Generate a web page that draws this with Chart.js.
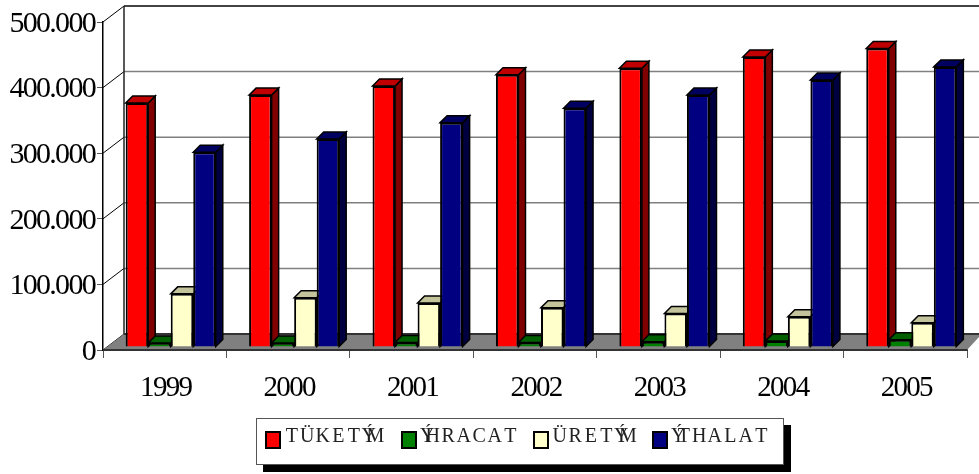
<!DOCTYPE html>
<html>
<head>
<meta charset="utf-8">
<script src="https://cdn.jsdelivr.net/npm/chart.js@4/dist/chart.umd.min.js"></script>
<style>
  html, body { margin: 0; padding: 0; background: #fff; overflow: hidden; }
  #wrap { position: relative; width: 979px; height: 474px; }
  #legend {
    position: absolute; left: 256px; top: 418px; width: 526px; height: 45px;
    background: #fff; border: 1px solid #555; box-shadow: 7px 7px 0 #000;
    font-family: "Liberation Serif", serif; font-size: 20px; color: #222;
  }
  .item { position: absolute; top: 6px; height: 30px; white-space: nowrap; }
  .swatch { position: absolute; left: 0; top: 6px; width: 12px; height: 14px; border: 2px solid #000; }
  .name { position: absolute; left: 19px; top: -1px; }
  .ch { display: inline-block; width: 15.5px; text-align: center; }
  .ch.narrow { width: 5px; }
</style>
</head>
<body>
<div id="wrap">
  <canvas id="chart" width="979" height="474"></canvas>
  <div id="legend"></div>
</div>
<script>
const years = ['1999', '2000', '2001', '2002', '2003', '2004', '2005'];
const tuketim = [372000, 384000, 398000, 415000, 425000, 442000, 455000];
const ihracat = [6000, 6000, 7000, 7000, 8000, 9000, 11000];
const uretim = [81000, 75000, 67000, 60000, 51000, 46000, 37000];
const ithalat = [297000, 317000, 342000, 364000, 384000, 407000, 427000];
const seriesNames = ['TÜKETÝM', 'ÝHRACAT', 'ÜRETÝM', 'ÝTHALAT'];
const yTickLabels = ['0', '100.000', '200.000', '300.000', '400.000', '500.000'];

const fronts = ['#ff0000', '#008000', '#ffffcc', '#000080'];
const tops = ['#c00000', '#006000', '#c4c49c', '#000060'];
const sides = ['#800000', '#004000', '#808066', '#000040'];

// depth of the box and of one bar, in pixels
const boxDX = 21, boxDY = 16;
const barDX = 7, barDY = 7;
const shiftX = 6, shiftY = -3;

function poly(ctx, pts, fill, stroke, lw) {
  ctx.beginPath();
  pts.forEach((p, i) => i ? ctx.lineTo(p[0], p[1]) : ctx.moveTo(p[0], p[1]));
  ctx.closePath();
  if (fill) { ctx.fillStyle = fill; ctx.fill(); }
  if (stroke) { ctx.strokeStyle = stroke; ctx.lineWidth = lw; ctx.stroke(); }
}

const box3d = {
  id: 'box3d',
  beforeDraw(chart) {
    chart.ctx.letterSpacing = '-1.7px';
  },
  beforeDatasetsDraw(chart) {
    const ctx = chart.ctx, a = chart.chartArea, y = chart.scales.y;
    ctx.save();
    ctx.letterSpacing = '0px';
    const backR = chart.width;
    // back wall grid
    y.ticks.forEach(t => {
      const py = y.getPixelForValue(t.value);
      ctx.strokeStyle = t.value === 500000 ? '#444' : '#808080';
      ctx.lineWidth = t.value === 500000 ? 2 : 1.5;
      ctx.beginPath();
      ctx.moveTo(a.left + boxDX, py - boxDY);
      ctx.lineTo(backR, py - boxDY);
      ctx.stroke();
      ctx.strokeStyle = '#000';
      ctx.lineWidth = 1;
      ctx.beginPath();
      ctx.moveTo(a.left, py);
      ctx.lineTo(a.left + boxDX, py - boxDY);
      ctx.stroke();
    });
    ctx.strokeStyle = '#222';
    ctx.lineWidth = 1.5;
    ctx.beginPath();
    ctx.moveTo(a.left + boxDX, a.top - boxDY);
    ctx.lineTo(a.left + boxDX, a.bottom - boxDY);
    ctx.stroke();
    // floor
    poly(ctx, [[a.left, a.bottom], [a.left + boxDX, a.bottom - boxDY], [backR, a.bottom - boxDY], [backR, a.bottom - boxDY + 3], [a.right, a.bottom]], '#808080');
    ctx.strokeStyle = '#333';
    ctx.lineWidth = 2;
    ctx.beginPath();
    ctx.moveTo(a.left, a.bottom);
    ctx.lineTo(a.right, a.bottom);
    ctx.moveTo(a.left + boxDX, a.bottom - boxDY);
    ctx.lineTo(backR, a.bottom - boxDY);
    ctx.stroke();
    ctx.restore();

    // bars sit half way into the box; draw left to right so each bar covers
    // the side face of the one before it (Chart.js would go the other way)
    ctx.save();
    ctx.translate(shiftX, shiftY);
    chart.data.datasets.forEach((ds, i) => {
      const meta = chart.getDatasetMeta(i);
      meta.data.forEach(bar => {
        const l = bar.x - bar.width / 2, r = bar.x + bar.width / 2;
        const t = bar.y, b = bar.base;
        poly(ctx, [[r, t], [r + barDX, t - barDY], [r + barDX, b - barDY], [r, b]], sides[i], '#000', 1.5);
        poly(ctx, [[l, t], [l + barDX, t - barDY], [r + barDX, t - barDY], [r, t]], tops[i], '#000', 1.5);
      });
      meta.controller.draw();
    });
    ctx.restore();
    return false;
  }
};

new Chart(document.getElementById('chart'), {
  type: 'bar',
  data: {
    labels: years,
    datasets: [tuketim, ihracat, uretim, ithalat].map((values, i) => ({
      label: seriesNames[i],
      data: values,
      backgroundColor: fronts[i],
      borderColor: '#000',
      borderWidth: 2,
      categoryPercentage: 0.73,
      barPercentage: 1
    }))
  },
  options: {
    responsive: false,
    animation: false,
    layout: { padding: { left: 0, right: 12, top: 22, bottom: 0 } },
    plugins: { legend: { display: false }, tooltip: { enabled: false } },
    scales: {
      x: {
        afterFit(s) { s.height = 124; },
        grid: { drawOnChartArea: false, drawTicks: true, tickLength: 8, color: '#555', offset: true },
        border: { color: '#333', width: 2 },
        ticks: { color: '#000', padding: 13, labelOffset: 1, maxRotation: 0, font: { family: '"Liberation Serif"', size: 29 } }
      },
      y: {
        min: 0,
        max: 500000,
        afterFit(s) { s.width = 103; },
        grid: { drawOnChartArea: false, drawTicks: true, tickLength: 6, color: '#555' },
        border: { color: '#000', width: 1.5 },
        ticks: {
          stepSize: 100000,
          color: '#000',
          padding: 2,
          labelOffset: 2,
          font: { family: '"Liberation Serif"', size: 30 },
          callback: (v, i) => yTickLabels[i]
        }
      }
    }
  },
  plugins: [box3d]
});

// legend, fixed pitch like the original; Ý has almost no advance in it
const legend = document.getElementById('legend');
const legendLeft = [8, 144, 276, 395];
seriesNames.forEach((name, i) => {
  const item = document.createElement('div');
  item.className = 'item';
  item.style.left = legendLeft[i] + 'px';
  const sw = document.createElement('span');
  sw.className = 'swatch';
  sw.style.background = fronts[i];
  item.appendChild(sw);
  const txt = document.createElement('span');
  txt.className = 'name';
  for (const c of name) {
    const s = document.createElement('span');
    s.className = c === 'Ý' ? 'ch narrow' : 'ch';
    s.textContent = c;
    txt.appendChild(s);
  }
  item.appendChild(txt);
  legend.appendChild(item);
});
</script>
</body>
</html>
